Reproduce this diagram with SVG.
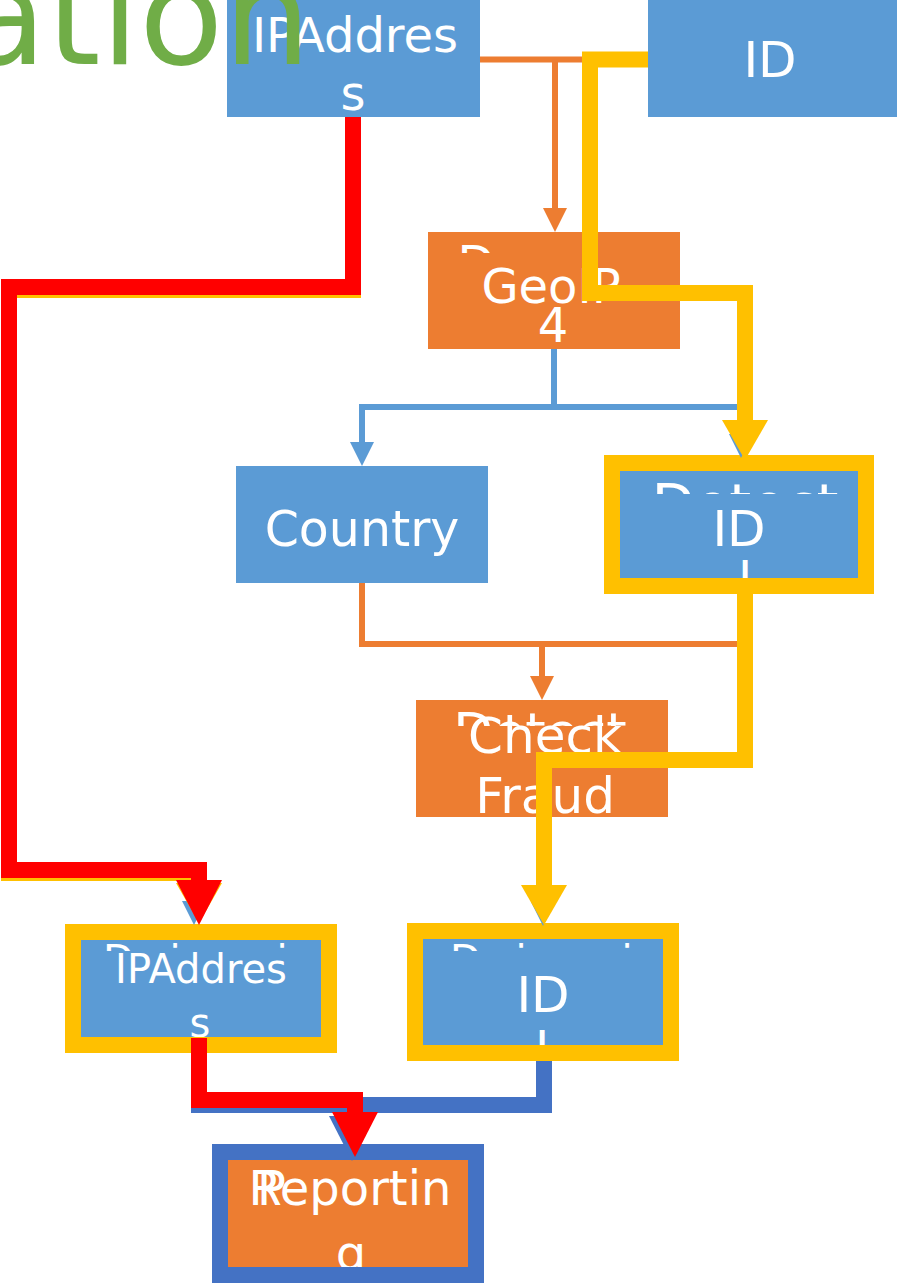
<svg xmlns="http://www.w3.org/2000/svg" width="897" height="1283" viewBox="0 0 897 1283">
  <style>
    .lbl { font-family: "DejaVu Sans", "Liberation Sans", sans-serif; fill: #FFFFFF; text-anchor: middle; }
    .blue { fill: #5B9BD5; }
    .orange { fill: #ED7D31; }
    .ring { fill: none; stroke: #FFC000; stroke-width: 16; }
    .ring-dark { fill: none; stroke: #4472C4; stroke-width: 16; }
    .thin-o { fill: none; stroke: #ED7D31; stroke-width: 6; }
    .thin-b { fill: none; stroke: #5B9BD5; stroke-width: 6; }
    .hl-y { fill: none; stroke: #FFC000; stroke-width: 16; }
    .hl-r { fill: none; stroke: #FF0000; stroke-width: 16; }
    .hl-d { fill: none; stroke: #4472C4; stroke-width: 16; }
    .title { font-family: "DejaVu Sans", "Liberation Sans", sans-serif; fill: #70AD47; }
  </style>
  <defs>
    <marker id="arr-o" markerUnits="userSpaceOnUse" markerWidth="24" markerHeight="24" viewBox="0 0 24 24" refX="0" refY="12" orient="auto">
      <path d="M0,0 L24,12 L0,24 Z" fill="#ED7D31"/>
    </marker>
    <marker id="arr-b" markerUnits="userSpaceOnUse" markerWidth="24" markerHeight="24" viewBox="0 0 24 24" refX="0" refY="12" orient="auto">
      <path d="M0,0 L24,12 L0,24 Z" fill="#5B9BD5"/>
    </marker>
    <marker id="arr-y" markerUnits="userSpaceOnUse" markerWidth="40" markerHeight="46" viewBox="0 0 40 46" refX="0" refY="23" orient="auto">
      <path d="M0,0 L40,23 L0,46 Z" fill="#FFC000"/>
    </marker>
    <marker id="arr-r" markerUnits="userSpaceOnUse" markerWidth="45" markerHeight="46" viewBox="0 0 45 46" refX="0" refY="23" orient="auto">
      <path d="M0,0 L45,23 L0,46 Z" fill="#FF0000"/>
    </marker>
    <marker id="arr-d" markerUnits="userSpaceOnUse" markerWidth="45" markerHeight="46" viewBox="0 0 45 46" refX="0" refY="23" orient="auto">
      <path d="M0,0 L45,23 L0,46 Z" fill="#4472C4"/>
    </marker>
    <clipPath id="clip-geo"><rect x="428" y="232" width="252" height="21"/></clipPath>
    <clipPath id="clip-detect"><rect x="612" y="463" width="254" height="31"/></clipPath>
    <clipPath id="clip-check"><rect x="416" y="700" width="252" height="26"/></clipPath>
    <clipPath id="clip-ipb"><rect x="73" y="932" width="256" height="19"/></clipPath>
    <clipPath id="clip-idb"><rect x="415" y="931" width="256" height="20"/></clipPath>
  </defs>

  <!-- nodes -->
  <g id="node-ip-top">
    <rect class="blue" x="227" y="-4" width="253" height="121"/>
    <text class="lbl" x="355" y="52" font-size="48">IPAddres</text>
    <text class="lbl" x="353" y="110" font-size="48">s</text>
  </g>
  <g id="node-id-top">
    <rect class="blue" x="648" y="-4" width="260" height="121"/>
    <text class="lbl" x="770" y="77" font-size="50">ID</text>
  </g>
  <g id="node-geoip">
    <rect class="orange" x="428" y="232" width="252" height="117"/>
    <text class="lbl" x="476" y="280" font-size="48" clip-path="url(#clip-geo)">D</text>
    <text class="lbl" x="551" y="303" font-size="48">GeoIP</text>
    <text class="lbl" x="553" y="342" font-size="48">4</text>
  </g>
  <g id="node-country">
    <rect class="blue" x="236" y="466" width="252" height="117"/>
    <text class="lbl" x="362" y="546" font-size="49">Country</text>
  </g>
  <g id="node-detect-id">
    <rect class="blue" x="612" y="463" width="254" height="122"/>
    <text class="lbl" x="745" y="523" font-size="56" clip-path="url(#clip-detect)">Detect</text>
    <text class="lbl" x="739" y="546" font-size="50">ID</text>
    <text class="lbl" x="745" y="595" font-size="48">I</text>
    <rect class="ring" x="612" y="463" width="254" height="123"/>
  </g>
  <g id="node-check-fraud">
    <rect class="orange" x="416" y="700" width="252" height="117"/>
    <text class="lbl" x="540" y="750" font-size="52" clip-path="url(#clip-check)">Detect</text>
    <text class="lbl" x="545" y="753" font-size="50">Check</text>
    <text class="lbl" x="545" y="813" font-size="50">Fraud</text>
  </g>
  <g id="node-ip-bottom">
    <rect class="blue" x="73" y="932" width="256" height="113"/>
    <g clip-path="url(#clip-ipb)">
      <text class="lbl" x="103" y="974" font-size="40" style="text-anchor:start">D</text>
      <text class="lbl" x="175" y="974" font-size="40">i</text>
      <text class="lbl" x="282" y="974" font-size="40">i</text>
    </g>
    <text class="lbl" x="201" y="983" font-size="40">IPAddres</text>
    <text class="lbl" x="200" y="1037" font-size="40">s</text>
    <rect class="ring" x="73" y="932" width="256" height="113"/>
  </g>
  <g id="node-id-bottom">
    <rect class="blue" x="415" y="931" width="256" height="122"/>
    <g clip-path="url(#clip-idb)">
      <text class="lbl" x="450" y="974" font-size="40" style="text-anchor:start">D</text>
      <text class="lbl" x="521" y="974" font-size="40">i</text>
      <text class="lbl" x="627" y="974" font-size="40">i</text>
    </g>
    <text class="lbl" x="543" y="1012" font-size="50">ID</text>
    <text class="lbl" x="542" y="1065" font-size="48">I</text>
    <rect class="ring" x="415" y="931" width="256" height="122"/>
  </g>
  <g id="node-reporting">
    <rect class="orange" x="220" y="1152" width="256" height="123"/>
    <text class="lbl" x="257" y="1205" font-size="48" style="text-anchor:start">P</text>
    <text class="lbl" x="350" y="1205" font-size="48">Reportin</text>
    <text class="lbl" x="351" y="1270" font-size="48">g</text>
    <rect class="ring-dark" x="220" y="1152" width="256" height="123"/>
  </g>

  <!-- connectors -->
  <g id="connectors">
    <!-- plain flow -->
    <path class="thin-o" d="M480,59.5 H648"/>
    <path class="thin-o" d="M555,59.5 V208" marker-end="url(#arr-o)"/>
    <path class="thin-b" d="M554,349 V407 H362 V442" marker-end="url(#arr-b)"/>
    <path class="thin-b" d="M554,407 H741 V434" marker-end="url(#arr-b)"/>
    <path class="thin-o" d="M362,583 V644 H745 V592"/>
    <path class="thin-o" d="M542,644 V676" marker-end="url(#arr-o)"/>
    <path class="thin-b" d="M543,817 V902" marker-end="url(#arr-b)"/>
    <path class="thin-b" d="M194,880 V901" marker-end="url(#arr-b)"/>
    <!-- bottom merge into reporting -->
    <path class="hl-d" d="M199,1052 V1105 H544 V1061"/>
    <path class="hl-d" d="M352,1105 V1116" marker-end="url(#arr-d)"/>
    <!-- highlighted routes -->
    <path class="hl-y" d="M648,59.5 H590 V293 H745 V420" marker-end="url(#arr-y)"/>
    <path class="hl-y" d="M745,586 V760 H544 V885" marker-end="url(#arr-y)"/>
    <path class="hl-y" transform="translate(0,3)" d="M353,117 V287 H9 V870 H199 V880" marker-end="url(#arr-y)"/>
    <path class="hl-r" d="M353,117 V287 H9 V870 H199 V880" marker-end="url(#arr-r)"/>
    <path class="hl-r" d="M199,1038 V1100 H355 V1112" marker-end="url(#arr-r)"/>
  </g>

  <text class="title" x="-38" y="64" font-size="138">ation</text>
</svg>
